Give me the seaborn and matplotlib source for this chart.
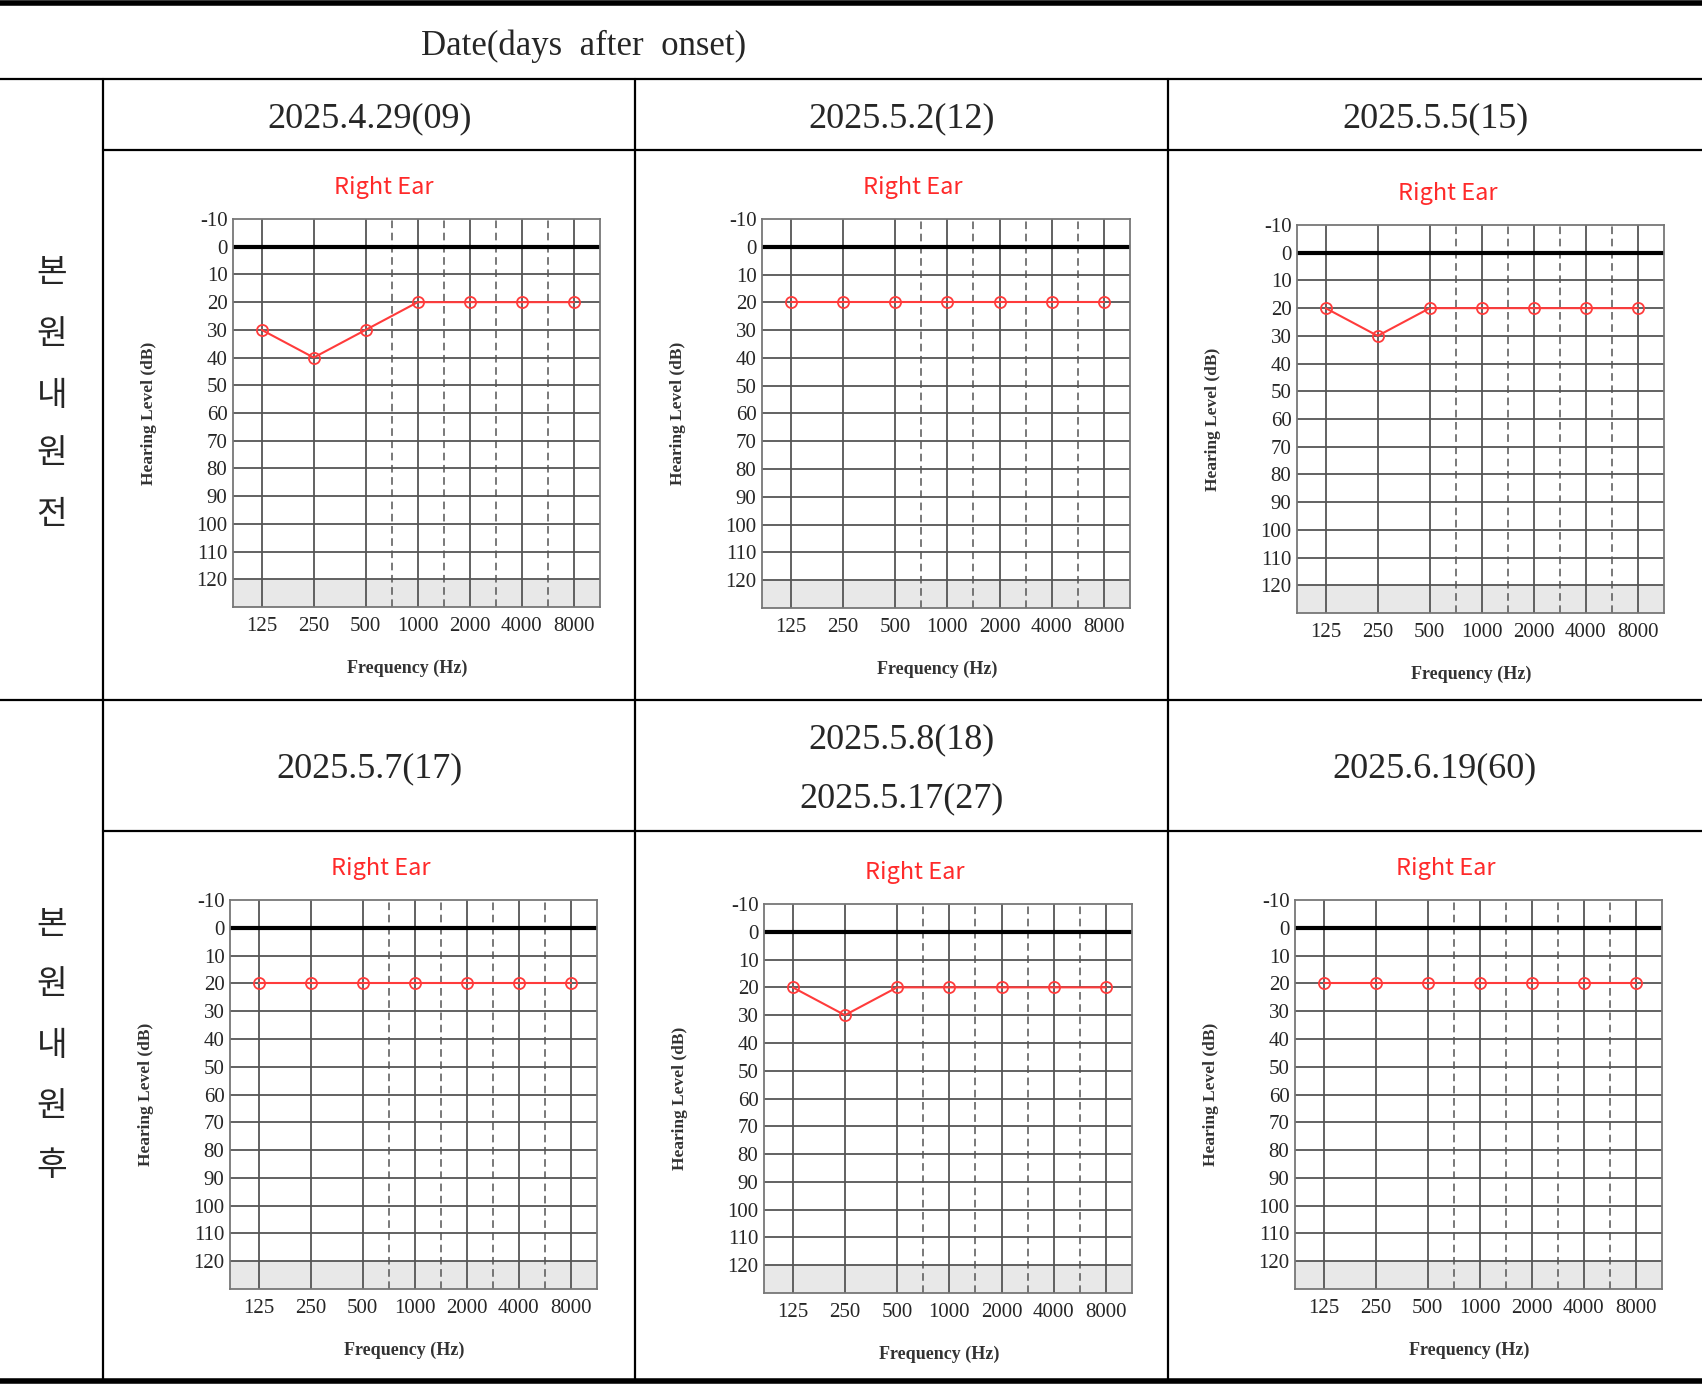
import numpy as np
import pandas as pd
import matplotlib
matplotlib.use("Agg")
import matplotlib.pyplot as plt
from matplotlib.lines import Line2D
import seaborn as sns

# audiogram data, right ear (dB HL)
freqs = [125, 250, 500, 1000, 2000, 4000, 8000]
freq_labels = ["125", "250", "500", "1000", "2000", "4000", "8000"]
hl_0429 = [30, 40, 30, 20, 20, 20, 20]
hl_0502 = [20, 20, 20, 20, 20, 20, 20]
hl_0505 = [20, 30, 20, 20, 20, 20, 20]
hl_0507 = [20, 20, 20, 20, 20, 20, 20]
hl_0508 = [20, 30, 20, 20, 20, 20, 20]
hl_0619 = [20, 20, 20, 20, 20, 20, 20]
dates = ["2025.4.29(09)", "2025.5.2(12)", "2025.5.5(15)",
         "2025.5.7(17)", "2025.5.8(18)\n2025.5.17(27)", "2025.6.19(60)"]
row_labels = ["본원내원전", "본원내원후"]

sns.set_style("white")
plt.rcParams['font.family'] = ['Liberation Serif', 'DejaVu Serif']

W, H = 1702, 1384
fig = plt.figure(figsize=(W / 100, H / 100), dpi=100)


def fx(x):
    return x / W


def fy(y):
    return 1 - y / H


def hline(y, x0, x1, lw=1.6):
    fig.add_artist(Line2D([fx(x0), fx(x1)], [fy(y), fy(y)], color="black", lw=lw,
                          transform=fig.transFigure))


def vline(x, y0, y1, lw=1.6):
    fig.add_artist(Line2D([fx(x), fx(x)], [fy(y0), fy(y1)], color="black", lw=lw,
                          transform=fig.transFigure))


# table frame
hline(2.5, 0, W, lw=4)
hline(79, 0, W)
hline(150, 103, W)
hline(700, 0, W)
hline(831, 103, W)
hline(1381, 0, W, lw=4)
for xv in [103, 635, 1168]:
    vline(xv, 79, 1379)

fig.text(fx(584), fy(46), "Date(days  after  onset)", ha="center", va="center",
         fontsize=25)

date_pos = [(370, 119), (902, 119), (1435, 119), (370, 769), (902, 769), (1435, 769)]
for (xc, yc), d in zip(date_pos, dates):
    fig.text(fx(xc), fy(yc), d, ha="center", va="center", fontsize=26,
             linespacing=2.05)

for yc_list, lab in zip([[273, 334, 395, 454, 514], [924, 985, 1046, 1106, 1165]], row_labels):
    for yc, ch in zip(yc_list, lab):
        fig.text(fx(52), fy(yc), ch, ha="center", va="center", fontsize=24,
                 family=['Noto Sans CJK KR', 'DejaVu Sans'])

# axes boxes: (left, top, right, bottom) in pixels
boxes = [(233, 219, 600, 607), (762, 219, 1130, 608), (1297, 225, 1664, 613),
         (230, 900, 597, 1289), (764, 904, 1132, 1293), (1295, 900, 1662, 1289)]
series = [hl_0429, hl_0502, hl_0505, hl_0507, hl_0508, hl_0619]

grid_c = "#555555"
for (l, t, r, b), hl in zip(boxes, series):
    ax = fig.add_axes([fx(l), fy(b), fx(r - l), (b - t) / H])
    xpos = np.log2(np.array(freqs) / 125)
    ax.axhspan(120, 130, color="#e8e8e8", zorder=0)
    for yv in range(10, 130, 10):
        ax.axhline(yv, color=grid_c, lw=1.3, zorder=1)
    ax.axhline(0, color="black", lw=3, zorder=2)
    for xv in xpos:
        ax.axvline(xv, color=grid_c, lw=1.3, zorder=1)
    for xv in [2.5, 3.5, 4.5, 5.5]:
        ax.axvline(xv, color=grid_c, lw=1.1, ls=(0, (5, 3)), zorder=1)
    df = pd.DataFrame({"x": xpos, "hl": hl})
    sns.lineplot(data=df, x="x", y="hl", ax=ax, color="#ff3b3b", lw=1.5,
                 marker="o", markersize=8, markerfacecolor="none",
                 markeredgecolor="#ff3b3b", markeredgewidth=1.3, zorder=5)
    ax.set_xlim(-0.55, 6.5)
    ax.set_ylim(130, -10)
    ax.set_yticks(range(-10, 130, 10))
    ax.set_yticklabels([str(v) for v in range(-10, 130, 10)])
    ax.set_xticks(xpos)
    ax.set_xticklabels(freq_labels)
    ax.tick_params(length=0, labelsize=15, pad=4)
    ax.tick_params(axis="x", pad=7)
    for sp in ax.spines.values():
        sp.set_color("#777777")
        sp.set_linewidth(1.3)
    ax.set_xlabel("Frequency (Hz)", fontsize=13, fontweight="bold", color="#333333",
                  labelpad=17)
    ax.xaxis.set_label_coords(0.475, -0.135)
    ax.set_ylabel("Hearing Level (dB)", fontsize=12.5, fontweight="bold", color="#333333",
                  labelpad=28)
    ax.set_title("Right Ear", color="#ff2a2a", fontsize=17, pad=18, x=0.41,
                 family=['Noto Sans CJK KR', 'DejaVu Sans'])

fig.savefig("out.png", dpi=100)
